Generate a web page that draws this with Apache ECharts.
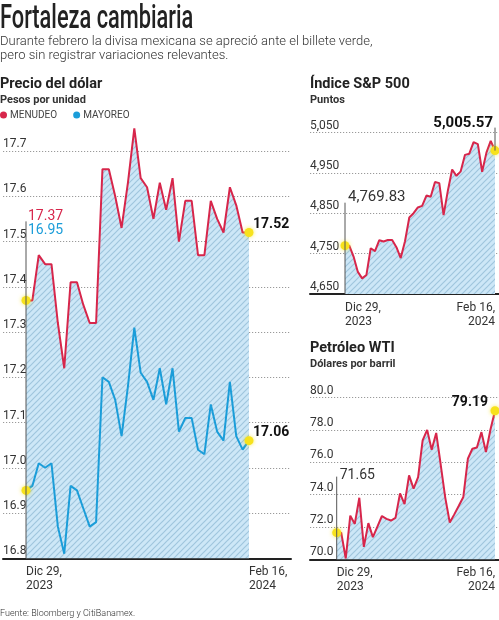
<!DOCTYPE html>
<html><head><meta charset="utf-8">
<script src="https://cdn.jsdelivr.net/npm/echarts@6/dist/echarts.min.js"></script>
<style>html,body{margin:0;padding:0;background:#fff}#c{width:499px;height:620px}</style>
</head><body><div id="c"></div>
<script>
// ---- data ----
const dates = ['2023-12-29','2024-01-01','2024-01-02','2024-01-03','2024-01-04','2024-01-05',
  '2024-01-08','2024-01-09','2024-01-10','2024-01-11','2024-01-12',
  '2024-01-15','2024-01-16','2024-01-17','2024-01-18','2024-01-19',
  '2024-01-22','2024-01-23','2024-01-24','2024-01-25','2024-01-26',
  '2024-01-29','2024-01-30','2024-01-31','2024-02-01','2024-02-02',
  '2024-02-05','2024-02-06','2024-02-07','2024-02-08','2024-02-09',
  '2024-02-12','2024-02-13','2024-02-14','2024-02-15','2024-02-16'];
const dateTicks = ['Dic 29,\n2023', 'Feb 16,\n2024'];
const menudeo = [17.37,17.37,17.47,17.45,17.45,17.32,17.22,17.41,17.41,17.36,17.32,17.32,
  17.66,17.66,17.60,17.53,17.63,17.75,17.64,17.62,17.55,17.63,17.57,17.64,17.50,17.59,
  17.59,17.47,17.47,17.59,17.55,17.52,17.62,17.58,17.52,17.52];
const mayoreo = [16.95,16.96,17.01,17.00,17.01,16.87,16.81,16.96,16.95,16.91,16.87,16.88,
  17.20,17.19,17.15,17.07,17.18,17.31,17.21,17.19,17.15,17.22,17.14,17.22,17.08,17.11,
  17.11,17.04,17.03,17.14,17.08,17.06,17.19,17.07,17.04,17.06];
const sp500 = [4769.83,4769.83,4742.83,4704.81,4688.68,4697.24,4763.54,4756.50,4783.45,4780.24,
  4783.83,4783.83,4765.98,4739.21,4780.94,4839.81,4850.43,4864.60,4868.55,4894.16,4890.97,
  4927.93,4924.97,4845.65,4906.19,4958.61,4942.81,4954.23,4995.06,4997.91,5026.61,
  5021.84,4953.17,5000.62,5029.73,5005.57];
const wti = [71.65,71.65,70.05,72.70,72.19,73.81,70.77,72.24,71.37,72.02,72.68,72.50,
  72.40,72.56,74.08,73.41,75.19,74.37,75.09,77.36,78.01,76.78,77.82,75.85,73.82,72.28,
  72.78,73.31,73.86,76.22,76.84,76.92,77.87,76.64,78.03,79.19];
const pesoTicks = [16.8,16.9,17.0,17.1,17.2,17.3,17.4,17.5,17.6,17.7];
const spTicks = [4650,4750,4850,4950,5050];
const wtiTicks = [70,72,74,76,78,80];

// ---- styles ----
const RED = '#d7264b', BLUE = '#1b9dd9', YEL = '#f7e21c', FONT = 'Roboto';
function hatch(){
  const s = 6, c = document.createElement('canvas'); c.width = c.height = s;
  const g = c.getContext('2d');
  g.fillStyle = '#cde7f7'; g.fillRect(0,0,s,s);
  g.strokeStyle = '#9fc5dd'; g.lineWidth = 1.2;
  g.beginPath();
  g.moveTo(0,s); g.lineTo(s,0);
  g.moveTo(-s,s); g.lineTo(s,-s);
  g.moveTo(0,2*s); g.lineTo(2*s,0);
  g.stroke();
  return c;
}
const pattern = {image: hatch(), repeat: 'repeat'};
const fmtComma = v => String(v).replace(/\B(?=(\d{3})+(?!\d))/g, ',');
const fmt2 = v => { const p = v.toFixed(2).split('.'); return fmtComma(p[0]) + '.' + p[1]; };
const inList = (list, v) => list.some(t => Math.abs(t - v) < 1e-6);

const G = [
  {left:0, top:105.8, width:291, height:452.5},
  {left:26, top:105.8, width:223, height:452.5},
  {left:310, top:132.7, width:189, height:161.3},
  {left:345, top:132.7, width:150, height:161.3},
  {left:310, top:397.7, width:189, height:161.6},
  {left:336.7, top:397.7, width:158.3, height:161.6}
];
function bgX(gi){
  return {gridIndex:gi, type:'value', min:0, max:1, axisLine:{show:true, onZero:false, lineStyle:{color:'#222', width:2}},
    axisTick:{show:false}, axisLabel:{show:false}, splitLine:{show:false}};
}
function dataX(gi, maxAlign){
  return {gridIndex:gi, type:'category', data:dates, boundaryGap:false,
    axisLine:{show:false}, axisTick:{show:false}, splitLine:{show:false},
    axisLabel:{show:true, interval:(i)=> i===0 || i===dates.length-1,
      formatter:(v,i)=> i===0 ? dateTicks[0] : dateTicks[1],
      alignMinLabel:'left', alignMaxLabel:maxAlign, margin:7,
      fontFamily:FONT, fontSize:12, lineHeight:14, color:'#333'}};
}
function bgY(gi, min, max, interval, colors, fmt, showMax){
  return {gridIndex:gi, type:'value', min, max, interval,
    axisLine:{show:false}, axisTick:{show:false},
    splitLine:{show:true, showMinLine:true, showMaxLine:showMax, lineStyle:{type:[1.2,1.8], color:colors, width:1}},
    axisLabel:{show:true, inside:true, margin:0, align:'left', verticalAlign:'bottom', padding:[0,0,1,0],
      fontFamily:FONT, fontSize:12, color:'#333', formatter:fmt}};
}
function dataY(gi, min, max){
  return {gridIndex:gi, type:'value', min, max, show:false, splitLine:{show:false}};
}
const dot = (data) => ({symbol:'circle', symbolSize:9, silent:true, label:{show:false},
  itemStyle:{color:YEL, shadowBlur:4, shadowColor:'rgba(247,226,28,0.7)'}, data});

const option = {
  animation:false,
  backgroundColor:'#fff',
  textStyle:{fontFamily:FONT},
  grid:G,
  legend:{data:['MENUDEO','MAYOREO'], left:0, top:110, icon:'circle', itemWidth:7, itemHeight:7, itemGap:16,
    padding:0, textStyle:{fontFamily:FONT, fontSize:10, color:'#444', padding:[0,0,0,-2]}},
  xAxis:[bgX(0), dataX(1,'left'), bgX(2), dataX(3,'right'), bgX(4), dataX(5,'right')],
  yAxis:[
    bgY(0,16.8,17.8,0.1,'#9a9a9a', v => inList(pesoTicks,v) ? v.toFixed(1) : '', false),
    dataY(1,16.8,17.8),
    bgY(2,4650,5050,50,['#9a9a9a','rgba(0,0,0,0)'], v => inList(spTicks,v) ? fmtComma(v) : '', true),
    dataY(3,4650,5050),
    bgY(4,70,80,2,'#9a9a9a', v => inList(wtiTicks,v) ? v.toFixed(1) : '', true),
    dataY(5,70,80)
  ],
  series:[
    {type:'line', xAxisIndex:0, yAxisIndex:0, data:[], silent:true},
    {type:'line', xAxisIndex:2, yAxisIndex:2, data:[], silent:true},
    {type:'line', xAxisIndex:4, yAxisIndex:4, data:[], silent:true},
    {name:'MENUDEO', type:'line', xAxisIndex:1, yAxisIndex:1, data:menudeo, symbol:'none', z:3,
      color:RED, lineStyle:{color:RED, width:2}, areaStyle:{color:pattern, opacity:1, origin:'start'},
      markPoint: dot([{coord:[dates[0], menudeo[0]]}, {coord:[dates[dates.length-1], menudeo[menudeo.length-1]]}])},
    {name:'MAYOREO', type:'line', xAxisIndex:1, yAxisIndex:1, data:mayoreo, symbol:'none', z:4,
      color:BLUE, lineStyle:{color:BLUE, width:2},
      markPoint: dot([{coord:[dates[0], mayoreo[0]]}, {coord:[dates[dates.length-1], mayoreo[mayoreo.length-1]]}])},
    {name:'S&P 500', type:'line', xAxisIndex:3, yAxisIndex:3, data:sp500, symbol:'none', z:3,
      color:RED, lineStyle:{color:RED, width:2}, areaStyle:{color:pattern, opacity:1, origin:'start'},
      markPoint: dot([{coord:[dates[0], sp500[0]]}, {coord:[dates[dates.length-1], sp500[sp500.length-1]]}])},
    {name:'WTI', type:'line', xAxisIndex:5, yAxisIndex:5, data:wti, symbol:'none', z:3,
      color:RED, lineStyle:{color:RED, width:2}, areaStyle:{color:pattern, opacity:1, origin:'start'},
      markPoint: dot([{coord:[dates[0], wti[0]]}, {coord:[dates[dates.length-1], wti[wti.length-1]]}])}
  ]
};

const chart = echarts.init(document.getElementById('c'), null, {renderer:'canvas'});
chart.setOption(option);

// ---- annotations positioned through the chart's own scales ----
const P = (xi, yi, i, v) => chart.convertToPixel({xAxisIndex:xi, yAxisIndex:yi}, [dates[i], v]);
const last = dates.length - 1;
const txt = (x, y, text, font, fill, align, va, extra) => Object.assign({type:'text', x, y, z:100,
  style:{text, font, fill, align:align||'left', verticalAlign:va||'middle'}}, extra||{});
const vline = (x, y1, y2) => ({type:'line', z:50, shape:{x1:x, y1, x2:x, y2}, style:{stroke:'#555', lineWidth:1}});

const pS = P(1,1,0,menudeo[0]), pE = P(1,1,last,menudeo[last]);
const bE = P(1,1,last,mayoreo[last]);
const pBase = P(1,1,0,16.8);
const sS = P(3,3,0,sp500[0]), sE = P(3,3,last,sp500[last]);
const sBase = P(3,3,0,4650);
const wS = P(5,5,0,wti[0]), wE = P(5,5,last,wti[last]);
const wBase = P(5,5,0,70);

const subtitle = 'Durante febrero la divisa mexicana se apreció ante el billete verde,\npero sin registrar variaciones relevantes.';
const graphics = [
  {type:'text', x:0, y:3, z:100, scaleX:0.66,
    style:{text:'Fortaleza cambiaria', font:'500 33px '+FONT, fill:'#222', align:'left', verticalAlign:'top'}},
  {type:'text', x:0, y:35, z:100,
    style:{text:subtitle, font:'300 13px '+FONT, fill:'#333', align:'left', verticalAlign:'top', lineHeight:13.5}},
  txt(0, 84, 'Precio del dólar', '700 14.5px '+FONT, '#222'),
  txt(0, 100, 'Pesos por unidad', '700 11px '+FONT, '#333'),
  txt(310, 84, 'Índice S&P 500', '700 14.5px '+FONT, '#222'),
  txt(310, 100, 'Puntos', '700 11px '+FONT, '#333'),
  txt(310, 348, 'Petróleo WTI', '700 14.5px '+FONT, '#222'),
  txt(310, 364, 'Dólares por barril', '700 11px '+FONT, '#333'),
  txt(0, 614, 'Fuente: Bloomberg y CitiBanamex.', '300 9px '+FONT, '#333'),
  // peso annotations
  vline(pS[0], pS[1]-79, pBase[1]),
  txt(pS[0]+2, pS[1]-84, menudeo[0].toFixed(2), '400 14px '+FONT, RED),
  txt(pS[0]+2, pS[1]-70, mayoreo[0].toFixed(2), '400 14px '+FONT, BLUE),
  txt(pE[0]+4, pE[1]-8, menudeo[last].toFixed(2), '700 14px '+FONT, '#111'),
  txt(bE[0]+4, bE[1]-8, mayoreo[last].toFixed(2), '700 14px '+FONT, '#111'),
  // S&P annotations
  vline(sS[0], sS[1]-43, sBase[1]),
  txt(sS[0]+3, sS[1]-48, fmt2(sp500[0]), '400 15px '+FONT, '#333'),
  vline(sE[0], sE[1]-23, sE[1]),
  txt(sE[0]-2, sE[1]-27, fmt2(sp500[last]), '700 15px '+FONT, '#111', 'right'),
  // WTI annotations
  vline(wS[0], wS[1]-56, wBase[1]),
  txt(wS[0]+3, wS[1]-57, wti[0].toFixed(2), '400 14px '+FONT, '#333'),
  txt(wE[0]-7, wE[1]-8, wti[last].toFixed(2), '700 14px '+FONT, '#111', 'right')
];
chart.setOption({graphic: graphics});
</script>
</body></html>
